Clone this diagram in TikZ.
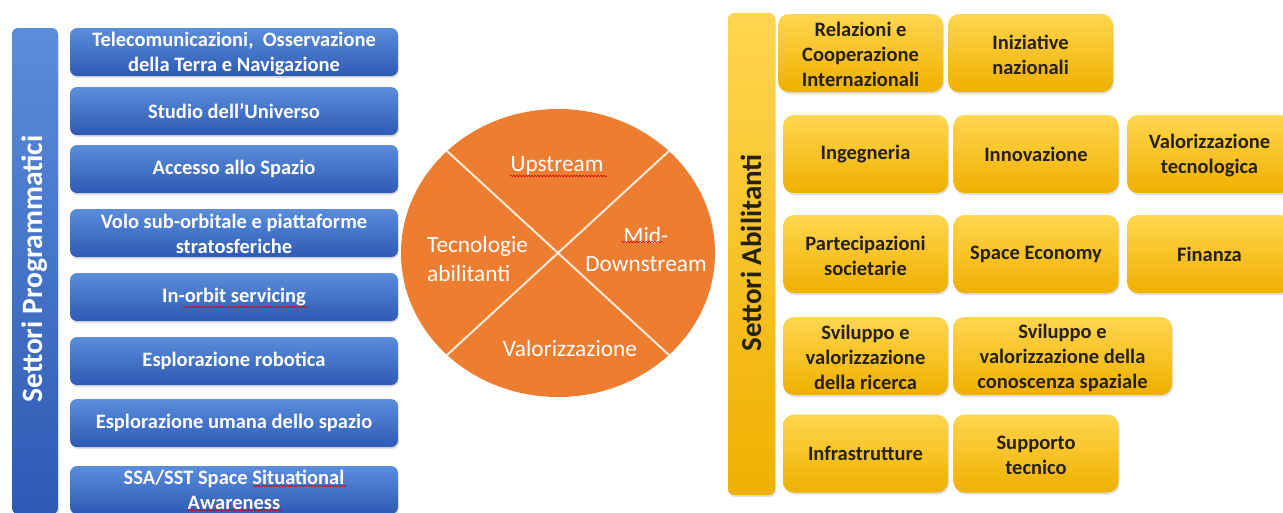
\documentclass[tikz,border=0pt]{standalone}
\usepackage{fontspec}
\setmainfont{Carlito}
\usetikzlibrary{shapes.geometric,shadows,calc,decorations.pathmorphing}
\definecolor{bluetop}{HTML}{5B8DDB}
\definecolor{bluebot}{HTML}{2D5AB3}
\definecolor{goldtop}{HTML}{FFD650}
\definecolor{goldbot}{HTML}{EFB000}
\definecolor{goldtext}{HTML}{262010}
\definecolor{orangefill}{HTML}{ED7D31}
\definecolor{xlinecol}{HTML}{FBE9D8}
\begin{document}
\begin{tikzpicture}[x=1pt,y=-1pt,
  bluebox/.style={rounded corners=7pt, top color=bluetop, bottom color=bluebot,
    minimum width=328pt, minimum height=48pt, text=white, inner sep=0pt,
    font=\bfseries\fontsize{20.5}{25}\selectfont, align=center,
    drop shadow={opacity=0.25, shadow xshift=1pt, shadow yshift=-2pt}},
  goldbox/.style={rounded corners=11pt, top color=goldtop, bottom color=goldbot,
    minimum width=165pt, minimum height=78pt, text=goldtext, inner sep=0pt,
    font=\bfseries\fontsize{20.5}{25}\selectfont, align=center,
    drop shadow={opacity=0.25, shadow xshift=1pt, shadow yshift=-2pt}},
  circtext/.style={text=white, font=\fontsize{23.3}{28}\selectfont, inner sep=0pt},
  xline/.style={draw=xlinecol, line width=2pt},
  squiggle/.style={draw=red!85!black, line width=0.6pt, decorate,
    decoration={snake, amplitude=0.7pt, segment length=3pt}}]
\fill[white] (0,0) rectangle (1283,512);
\useasboundingbox (0,0) rectangle (1283,512);

% left bar
\node[rounded corners=6pt, top color=bluetop, bottom color=bluebot, minimum width=46pt,
  minimum height=486pt, inner sep=0pt,
  drop shadow={opacity=0.25, shadow xshift=1pt, shadow yshift=-2pt}] (lbar) at (35,271) {};
\node[rotate=90, text=white, font=\bfseries\fontsize{29.5}{34}\selectfont, inner sep=0pt] (ltitle) at (35,269) {Settori Programmatici};

% blue boxes
\node[bluebox] (b1) at (234,52) {\rule{0pt}{17pt}Telecomunicazioni,\ \ Osservazione\\della Terra e Navigazione};
\node[bluebox] (b2) at (234,111) {Studio dell’Universo};
\node[bluebox] (b3) at (234,169) {Accesso allo Spazio};
\node[bluebox] (b4) at (234,233) {\rule{0pt}{17pt}Volo sub-orbitale e piattaforme\\stratosferiche};
\node[bluebox] (b5) at (234,297) {In-orbit servicing};
\node[bluebox] (b6) at (234,361) {Esplorazione robotica};
\node[bluebox] (b7) at (234,423) {Esplorazione umana dello spazio};
\node[bluebox] (b8) at (234,490) {SSA/SST Space Situational\\Awareness};

% circle
\node[ellipse, fill=orangefill, minimum width=314pt, minimum height=288pt, inner sep=0pt] (circ) at (558,253) {};
\draw[xline] ($(circ.center)+(-111,-102)$) -- ($(circ.center)+(111,102)$);
\draw[xline] ($(circ.center)+(111,-102)$) -- ($(circ.center)+(-111,102)$);
\node[circtext] (up) at (557,166) {Upstream};
\node[circtext, align=center, font=\fontsize{23.3}{27.5}\selectfont] (mid) at (646,249.5) {Mid-\\Downstream};
\node[circtext, align=left, anchor=west, font=\fontsize{23.3}{29}\selectfont] (tec) at (427,258.5) {Tecnologie\\abilitanti};
\node[circtext] (val) at (570,348) {Valorizzazione};

% spell-check squiggles
\draw[squiggle] (510,176) -- (607,176);
\draw[squiggle] (621,242) -- (662,242);
\draw[squiggle] (183,307) -- (308,307);
\draw[squiggle] (253,486) -- (347,486);
\draw[squiggle] (187,510) -- (282,510);

% right bar
\node[rounded corners=6pt, top color=goldtop, bottom color=goldbot, minimum width=47pt,
  minimum height=482pt, inner sep=0pt,
  drop shadow={opacity=0.25, shadow xshift=1pt, shadow yshift=-2pt}] (rbar) at (751.5,254) {};
\node[rotate=90, text=goldtext, font=\bfseries\fontsize{29}{34}\selectfont, inner sep=0pt] (rtitle) at (751,253) {Settori Abilitanti};

% gold boxes
\node[goldbox] (g1) at (860.5,53) {\rule{0pt}{18pt}Relazioni e\\Cooperazione\\Internazionali};
\node[goldbox] (g2) at (1030.5,53) {\rule{0pt}{18pt}Iniziative\\nazionali};
\node[goldbox] (g3) at (865.5,154) {Ingegneria};
\node[goldbox] (g4) at (1036,154) {Innovazione};
\node[goldbox] (g5) at (1209.5,154) {\rule{0pt}{18pt}Valorizzazione\\tecnologica};
\node[goldbox] (g6) at (865.5,254) {\rule{0pt}{18pt}Partecipazioni\\societarie};
\node[goldbox] (g7) at (1036,254) {Space Economy};
\node[goldbox] (g8) at (1209.5,254) {Finanza};
\node[goldbox] (g9) at (865.5,356) {\rule{0pt}{18pt}Sviluppo e\\valorizzazione\\della ricerca};
\node[goldbox, minimum width=219pt] (g10) at (1062.5,356) {\rule{0pt}{18pt}Sviluppo e\\valorizzazione della\\conoscenza spaziale};
\node[goldbox] (g11) at (865.5,453.5) {Infrastrutture};
\node[goldbox] (g12) at (1036,453.5) {\rule{0pt}{18pt}Supporto\\tecnico};
\end{tikzpicture}
\end{document}
